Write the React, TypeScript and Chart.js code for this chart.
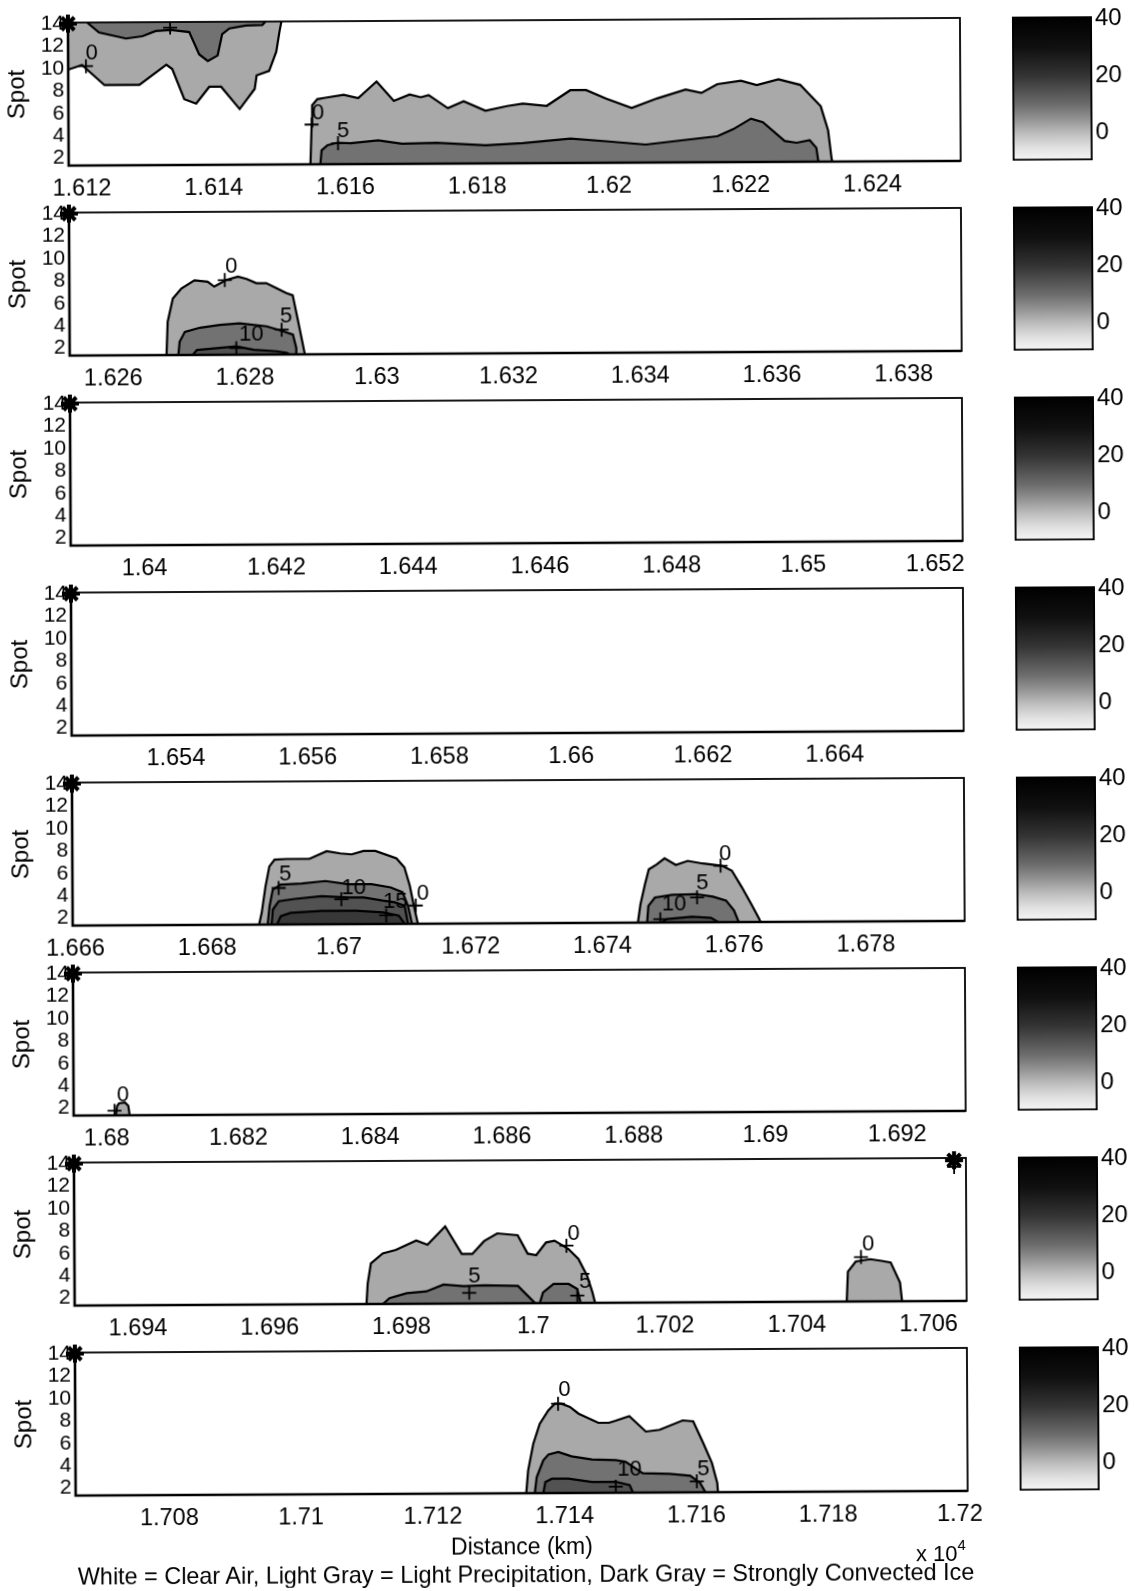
import React, { useEffect, useRef } from 'react';
import { Chart, registerables } from 'chart.js';

Chart.register(...registerables);

// ---------------- data ----------------
const panelStarts = [1.6118, 1.62534, 1.63888, 1.65242, 1.66596, 1.6795, 1.69304, 1.70658];
const panelSpan = 0.01354;

const xTickLabels = [
  [1.612, 1.614, 1.616, 1.618, 1.62, 1.622, 1.624],
  [1.626, 1.628, 1.63, 1.632, 1.634, 1.636, 1.638],
  [1.64, 1.642, 1.644, 1.646, 1.648, 1.65, 1.652],
  [1.654, 1.656, 1.658, 1.66, 1.662, 1.664],
  [1.666, 1.668, 1.67, 1.672, 1.674, 1.676, 1.678],
  [1.68, 1.682, 1.684, 1.686, 1.688, 1.69, 1.692],
  [1.694, 1.696, 1.698, 1.7, 1.702, 1.704, 1.706],
  [1.708, 1.71, 1.712, 1.714, 1.716, 1.718, 1.72],
];
const spotTicks = [2, 4, 6, 8, 10, 12, 14];
const spotRange = [1.33, 14.1];
const colorbarTicks = [0, 20, 40];
const dbzRange = [-9.6, 40.9];

// panel 1 (contours hanging from the top + one from the bottom)
const p1A_l0 = [[1.6118, 9.9], [1.61201, 10.3], [1.61235, 8.5], [1.61288, 8.5], [1.61329, 10.3], [1.61338, 9.9], [1.61356, 7.2], [1.61374, 6.8], [1.61394, 8.3], [1.61412, 8.3], [1.6144, 6.3], [1.61463, 8.1], [1.61466, 9.3], [1.61485, 9.7], [1.61496, 11.4], [1.61501, 13.2], [1.61504, 14.1]];
const p1A_l5 = [[1.61209, 14.1], [1.61227, 13.2], [1.61268, 12.65], [1.61293, 12.85], [1.61313, 13.3], [1.61336, 13.4], [1.61364, 13.2], [1.61379, 11.2], [1.61392, 10.6], [1.61407, 11.1], [1.61414, 13.0], [1.61425, 13.5], [1.6145, 13.75], [1.61475, 13.8], [1.6148, 14.1]];
const p1B_l0 = [[1.61547, 1.33], [1.61549, 4.7], [1.6155, 6.6], [1.61558, 7.15], [1.6157, 7.27], [1.61598, 7.52], [1.6162, 7.21], [1.61648, 8.7], [1.61674, 6.96], [1.61698, 7.52], [1.61715, 7.27], [1.61727, 7.46], [1.61756, 6.28], [1.6178, 6.9], [1.61813, 6.04], [1.61846, 6.44], [1.6187, 6.66], [1.61906, 6.44], [1.61942, 7.83], [1.61966, 7.83], [1.61996, 7.06], [1.62035, 6.22], [1.62074, 7.06], [1.62117, 7.83], [1.62141, 7.52], [1.62165, 8.3], [1.62201, 8.6], [1.62225, 8.2], [1.62258, 8.7], [1.62291, 8.2], [1.62322, 6.28], [1.62333, 4.12], [1.62338, 1.64], [1.62339, 1.33]];
const p1B_l5 = [[1.61562, 1.33], [1.61564, 2.57], [1.61573, 3.03], [1.61588, 3.25], [1.61608, 3.19], [1.6165, 3.44], [1.61686, 3.13], [1.61739, 3.19], [1.61813, 2.94], [1.6187, 3.13], [1.61942, 3.5], [1.61996, 3.25], [1.62056, 2.94], [1.62117, 3.34], [1.62165, 3.65], [1.62189, 4.27], [1.62216, 5.2], [1.62234, 4.89], [1.62267, 3.19], [1.62285, 3.03], [1.62305, 3.25], [1.62315, 2.57], [1.62318, 1.33]];
const p1Labels = [[1.61216, 11.3, '0'], [1.61559, 5.9, '0'], [1.61597, 4.3, '5']];
const p1Crosses = [[1.61207, 10.2], [1.61335, 13.6], [1.61549, 4.88], [1.61589, 3.2]];

// panel 2
const p2_l0 = [[1.62681, 1.33], [1.62683, 4.3], [1.62691, 6.37], [1.62704, 7.26], [1.62724, 8.0], [1.62744, 7.86], [1.62754, 7.42], [1.62772, 8.0], [1.6279, 8.3], [1.62803, 8.09], [1.62818, 7.71], [1.62833, 7.71], [1.62848, 7.26], [1.62863, 6.82], [1.62873, 6.61], [1.62881, 4.3], [1.62891, 1.33]];
const p2_l5 = [[1.62699, 1.33], [1.62701, 2.51], [1.62709, 3.4], [1.62732, 3.76], [1.62762, 3.99], [1.62792, 4.14], [1.62833, 3.85], [1.62858, 3.4], [1.62873, 3.1], [1.62878, 1.92], [1.62878, 1.33]];
const p2_l10 = [[1.62721, 1.33], [1.62727, 1.77], [1.62757, 1.92], [1.62787, 2.07], [1.62813, 1.77], [1.62848, 1.62], [1.62863, 1.48], [1.62868, 1.33]];
const p2Labels = [[1.6278, 9.2, '0'], [1.62863, 4.74, '5'], [1.6281, 3.1, '10']];
const p2Crosses = [[1.6277, 8.0], [1.62856, 3.55], [1.62787, 1.92]];

// panel 5
const p5A_l0 = [[1.66879, 1.33], [1.66883, 2.37], [1.66889, 4.74], [1.66895, 6.52], [1.66903, 7.12], [1.66921, 7.18], [1.66956, 7.18], [1.66982, 7.86], [1.67003, 7.65], [1.6702, 7.56], [1.67038, 7.86], [1.67056, 7.86], [1.67088, 7.18], [1.671, 6.37], [1.67108, 4.74], [1.67114, 2.96], [1.6712, 1.33]];
const p5A_l5 = [[1.66892, 1.33], [1.66895, 2.96], [1.669, 4.45], [1.66912, 4.89], [1.66944, 4.98], [1.6698, 5.19], [1.67015, 4.89], [1.6705, 4.89], [1.67079, 4.59], [1.67097, 4.15], [1.67105, 2.96], [1.67111, 1.33]];
const p5A_l10 = [[1.66898, 1.33], [1.669, 2.67], [1.66909, 3.41], [1.66933, 3.61], [1.66974, 3.85], [1.67015, 3.7], [1.67038, 3.7], [1.67067, 3.41], [1.67085, 3.26], [1.671, 2.96], [1.67105, 1.33]];
const p5A_l15 = [[1.66906, 1.33], [1.66912, 2.07], [1.66927, 2.37], [1.66974, 2.52], [1.67026, 2.52], [1.67067, 2.37], [1.67091, 2.07], [1.671, 1.33]];
const p5B_l0 = [[1.67454, 1.33], [1.67458, 2.96], [1.67465, 4.74], [1.67471, 6.08], [1.67483, 6.52], [1.67495, 7.06], [1.67512, 6.46], [1.6753, 6.82], [1.67553, 6.58], [1.67582, 6.37], [1.67597, 5.93], [1.67612, 4.45], [1.67626, 2.96], [1.67638, 1.63], [1.6764, 1.33]];
const p5B_l5 = [[1.67468, 1.33], [1.6747, 2.81], [1.6748, 3.56], [1.67506, 3.8], [1.67542, 3.85], [1.67568, 3.62], [1.67588, 3.26], [1.676, 2.37], [1.67606, 1.48], [1.67607, 1.33]];
const p5B_l10 = [[1.6749, 1.33], [1.67498, 1.63], [1.67536, 1.83], [1.67565, 1.72], [1.67576, 1.33]];
const p5Labels = [[1.66919, 5.78, '5'], [1.67023, 4.59, '10'], [1.67086, 3.26, '15'], [1.67128, 4.0, '0'], [1.67587, 7.41, '0'], [1.67552, 4.8, '5'], [1.67509, 2.96, '10']];
const p5Crosses = [[1.66909, 4.59], [1.67004, 3.56], [1.67072, 2.1], [1.67117, 2.96], [1.6758, 6.37], [1.67544, 3.56], [1.67488, 1.63]];

// panel 6
const p6_l0 = [[1.68014, 1.33], [1.68016, 2.17], [1.68019, 2.4], [1.68028, 2.48], [1.68033, 2.17], [1.68035, 1.33]];
const p6Labels = [[1.68025, 3.08, '0']];
const p6Crosses = [[1.68012, 1.74]];

// panel 7
const p7A_l0 = [[1.69747, 1.33], [1.69749, 3.18], [1.69754, 4.96], [1.69772, 5.85], [1.69792, 6.15], [1.69823, 6.98], [1.6984, 6.6], [1.69867, 8.23], [1.69892, 5.76], [1.69908, 5.76], [1.69926, 6.9], [1.69946, 7.58], [1.69977, 7.4], [1.69992, 5.76], [1.70005, 5.62], [1.7002, 6.75], [1.70033, 6.9], [1.70054, 6.15], [1.70069, 5.26], [1.70082, 3.77], [1.7009, 2.28], [1.70094, 1.33]];
const p7A_l5a = [[1.69772, 1.33], [1.69782, 1.84], [1.69808, 2.28], [1.69838, 2.43], [1.69864, 3.03], [1.69895, 2.88], [1.69926, 2.94], [1.69977, 2.88], [1.69987, 2.28], [1.70003, 1.33]];
const p7A_l5b = [[1.7001, 1.33], [1.70015, 2.28], [1.70031, 3.03], [1.70054, 3.03], [1.70067, 2.58], [1.70072, 1.33]];
const p7B_l0 = [[1.70476, 1.33], [1.70478, 4.0], [1.7049, 4.9], [1.70512, 5.1], [1.70529, 4.95], [1.70543, 4.8], [1.70557, 3.0], [1.7056, 1.33]];
const p7Labels = [[1.69911, 3.77, '5'], [1.70062, 7.49, '0'], [1.70079, 3.18, '5'], [1.70509, 6.4, '0']];
const p7Crosses = [[1.69903, 2.28], [1.70051, 6.45], [1.70067, 1.98], [1.70498, 5.3], [1.7064, 13.3]];
const p7Stars = [[1.7064, 13.9]];

// panel 8
const p8_l0 = [[1.71342, 1.33], [1.71345, 3.35], [1.71353, 5.73], [1.71363, 7.52], [1.71376, 8.71], [1.71386, 9.31], [1.71396, 9.31], [1.71409, 9.01], [1.71422, 8.41], [1.71452, 7.58], [1.71468, 7.58], [1.71478, 7.76], [1.71499, 8.17], [1.71524, 6.78], [1.71545, 6.93], [1.7158, 7.76], [1.71596, 7.67], [1.71611, 5.73], [1.71624, 3.95], [1.71632, 2.16], [1.71633, 1.33]];
const p8_l5 = [[1.71355, 1.33], [1.71358, 2.76], [1.71368, 4.25], [1.71376, 4.78], [1.71391, 4.99], [1.71411, 4.6], [1.71442, 4.31], [1.71478, 4.25], [1.71493, 4.1], [1.71519, 3.06], [1.7156, 3.0], [1.71591, 2.82], [1.71606, 2.16], [1.71614, 1.33]];
const p8_l10 = [[1.71368, 1.33], [1.71371, 2.31], [1.71381, 2.61], [1.71406, 2.61], [1.71442, 2.31], [1.71478, 2.31], [1.71499, 2.01], [1.71504, 1.33]];
const p8Labels = [[1.71401, 10.5, '0'], [1.71499, 3.35, '10'], [1.71611, 3.35, '5']];
const p8Crosses = [[1.71391, 9.31], [1.71478, 1.87], [1.71601, 2.31]];

// ---------------- tables built from the data ----------------
type Region = { pts: number[][]; level: number; toTop?: boolean };
const panelRegions: Region[][] = [
  [{ pts: p1A_l0, level: 0, toTop: true }, { pts: p1A_l5, level: 5, toTop: true }, { pts: p1B_l0, level: 0 }, { pts: p1B_l5, level: 5 }],
  [{ pts: p2_l0, level: 0 }, { pts: p2_l5, level: 5 }, { pts: p2_l10, level: 10 }],
  [],
  [],
  [{ pts: p5A_l0, level: 0 }, { pts: p5A_l5, level: 5 }, { pts: p5A_l10, level: 10 }, { pts: p5A_l15, level: 15 },
   { pts: p5B_l0, level: 0 }, { pts: p5B_l5, level: 5 }, { pts: p5B_l10, level: 10 }],
  [{ pts: p6_l0, level: 0 }],
  [{ pts: p7A_l0, level: 0 }, { pts: p7A_l5a, level: 5 }, { pts: p7A_l5b, level: 5 }, { pts: p7B_l0, level: 0 }],
  [{ pts: p8_l0, level: 0 }, { pts: p8_l5, level: 5 }, { pts: p8_l10, level: 10 }],
];
const panelLabels: any[][] = [p1Labels, p2Labels, [], [], p5Labels, p6Labels, p7Labels, p8Labels];
const panelCrosses: number[][][] = [p1Crosses, p2Crosses, [], [], p5Crosses, p6Crosses, p7Crosses, p8Crosses];
const panelStars: number[][][] = [[], [], [], [], [], [], p7Stars, []];

// ---------------- styles / layout ----------------
const FONT = "'Liberation Sans', Arial, Helvetica, sans-serif";
const PANEL_STEP = 190;
const CANVAS_W = 1000;
const CANVAS_H = 215;
const PLOT_LEFT = 72;
const PLOT_RIGHT = 964;
const PLOT_TOP = 20;
const PLOT_BOTTOM = 163;
const LEVEL_FILL: Record<number, string> = { 0: '#a9a9a9', 5: '#727272', 10: '#525252', 15: '#383838' };
const CB_STOPS = [[-9.6, 246], [-5, 224], [0, 188], [5, 146], [10, 108], [20, 52], [30, 16], [40.9, 0]];

const fmtTick = (v: number) => String(Number(v.toFixed(3)));
const toXY = (pts: number[][]) => pts.map(([x, y]) => ({ x, y }));

const boxPlugin = {
  id: 'axesBox',
  afterDatasetsDraw(chart: any) {
    const { ctx, chartArea: a } = chart;
    ctx.save();
    ctx.strokeStyle = '#000';
    ctx.lineWidth = 1.8;
    ctx.strokeRect(a.left, a.top, a.right - a.left, a.bottom - a.top);
    ctx.lineWidth = 2.6;
    ctx.beginPath();
    ctx.moveTo(a.left, a.top);
    ctx.lineTo(a.left, a.bottom);
    ctx.lineTo(a.right, a.bottom);
    ctx.stroke();
    ctx.restore();
  },
};

const labelPlugin = {
  id: 'contourLabels',
  afterDatasetsDraw(chart: any, _args: any, opts: any) {
    const items = (opts && opts.items) || [];
    const { ctx, scales } = chart;
    ctx.save();
    ctx.fillStyle = '#000';
    ctx.font = `22px ${FONT}`;
    ctx.textAlign = 'center';
    ctx.textBaseline = 'middle';
    for (const [x, y, t] of items) {
      ctx.fillText(t, scales.x.getPixelForValue(x), scales.y.getPixelForValue(y));
    }
    ctx.restore();
  },
};

function buildPanelConfig(i: number): any {
  const datasets: any[] = [];
  panelRegions[i].forEach((r) => {
    datasets.push({
      data: toXY(r.pts),
      showLine: true,
      fill: r.toTop ? 'end' : 'start',
      backgroundColor: LEVEL_FILL[r.level],
      borderColor: '#000',
      borderWidth: 2.2,
      pointRadius: 0,
      tension: 0,
      order: 100 - r.level,
    });
  });
  datasets.push({
    data: toXY(panelCrosses[i]),
    showLine: false,
    pointStyle: 'cross',
    pointRadius: 7,
    pointBorderWidth: 1.8,
    pointBorderColor: '#000',
    order: 1,
  });
  datasets.push({
    data: toXY([[panelStarts[i], 14], ...panelStars[i]]),
    showLine: false,
    pointStyle: 'star',
    pointRadius: 9,
    pointBorderWidth: 4,
    pointBorderColor: '#000',
    clip: false,
    order: 0,
  });

  return {
    type: 'line',
    data: { datasets },
    plugins: [boxPlugin, labelPlugin],
    options: {
      responsive: false,
      animation: false,
      events: [],
      layout: { padding: { left: 0, right: CANVAS_W - PLOT_RIGHT, top: PLOT_TOP, bottom: 0 } },
      plugins: {
        legend: { display: false },
        tooltip: { enabled: false },
        contourLabels: { items: panelLabels[i] },
      },
      scales: {
        x: {
          type: 'linear',
          min: panelStarts[i],
          max: panelStarts[i] + panelSpan,
          afterBuildTicks: (s: any) => { s.ticks = xTickLabels[i].map((v) => ({ value: v })); },
          afterFit: (s: any) => { s.height = CANVAS_H - PLOT_BOTTOM; s.paddingLeft = 0; s.paddingRight = 0; },
          ticks: {
            autoSkip: false, maxRotation: 0, minRotation: 0, padding: 9, color: '#000',
            font: { family: FONT, size: 23.5 },
            callback: (v: any) => fmtTick(Number(v)),
          },
          grid: { display: false, drawTicks: false },
          border: { display: false },
        },
        y: {
          type: 'linear',
          min: spotRange[0],
          max: spotRange[1],
          afterBuildTicks: (s: any) => { s.ticks = spotTicks.map((v) => ({ value: v })); },
          afterFit: (s: any) => { s.width = PLOT_LEFT; s.paddingTop = 0; s.paddingBottom = 0; },
          ticks: { autoSkip: false, padding: 4, color: '#000', font: { family: FONT, size: 21 } },
          title: { display: true, text: 'Spot', color: '#000', font: { family: FONT, size: 24 }, padding: { top: 7, bottom: 0 } },
          grid: { display: false, drawTicks: false },
          border: { display: false },
        },
      },
    },
  };
}

function Panel({ index }: { index: number }) {
  const ref = useRef<HTMLCanvasElement>(null);
  useEffect(() => {
    const chart = new Chart(ref.current as HTMLCanvasElement, buildPanelConfig(index));
    return () => chart.destroy();
  }, [index]);
  return (
    <canvas
      ref={ref}
      width={CANVAS_W}
      height={CANVAS_H}
      style={{ position: 'absolute', left: 0, top: index * PANEL_STEP, width: CANVAS_W, height: CANVAS_H, display: 'block' }}
    />
  );
}

const CB_W = 134;
const CB_H = 200;
function Colorbar({ index }: { index: number }) {
  const ref = useRef<HTMLCanvasElement>(null);
  useEffect(() => {
    const chart = new Chart(ref.current as HTMLCanvasElement, {
      type: 'bar',
      data: {
        labels: [''],
        datasets: [{
          data: [dbzRange as any],
          backgroundColor: (ctx: any) => {
            const c = ctx.chart;
            if (!c.chartArea) return '#888';
            const y = c.scales.y;
            const y0 = y.getPixelForValue(dbzRange[0]);
            const y1 = y.getPixelForValue(dbzRange[1]);
            const g = c.ctx.createLinearGradient(0, y0, 0, y1);
            CB_STOPS.forEach(([v, gray]) => {
              const t = (v - dbzRange[0]) / (dbzRange[1] - dbzRange[0]);
              g.addColorStop(Math.min(1, Math.max(0, t)), `rgb(${gray},${gray},${gray})`);
            });
            return g;
          },
          borderColor: '#000',
          borderWidth: 2.2,
          borderSkipped: false,
          barPercentage: 1,
          categoryPercentage: 1,
        }],
      },
      options: {
        responsive: false,
        animation: false,
        events: [],
        layout: { padding: { left: 16, top: PLOT_TOP - 1, bottom: CB_H - PLOT_BOTTOM, right: 0 } },
        plugins: { legend: { display: false }, tooltip: { enabled: false } },
        scales: {
          x: { display: false },
          y: {
            position: 'right',
            min: dbzRange[0],
            max: dbzRange[1],
            afterBuildTicks: (s: any) => { s.ticks = colorbarTicks.map((v) => ({ value: v })); },
            afterFit: (s: any) => { s.width = 38; s.paddingTop = 0; s.paddingBottom = 0; },
            ticks: { padding: 3, color: '#000', font: { family: FONT, size: 24 } },
            grid: { display: false, drawTicks: false },
            border: { display: false },
          },
        },
      } as any,
    });
    return () => chart.destroy();
  }, [index]);
  return (
    <canvas
      ref={ref}
      width={CB_W}
      height={CB_H}
      style={{ position: 'absolute', left: 1000, top: index * PANEL_STEP, width: CB_W, height: CB_H, display: 'block' }}
    />
  );
}

export default function App() {
  const idx = panelStarts.map((_, i) => i);
  const textStyle: React.CSSProperties = {
    position: 'absolute', fontFamily: FONT, fontSize: 23, lineHeight: '26px', color: '#000', whiteSpace: 'nowrap',
  };
  return (
    <div
      style={{
        position: 'absolute', left: 0, top: 0, width: 1134, height: 1591, background: '#fff',
        transform: 'rotate(-0.3deg)', transformOrigin: '567px 795px', overflow: 'visible',
      }}
    >
      {idx.map((i) => <Panel key={'p' + i} index={i} />)}
      {idx.map((i) => <Colorbar key={'c' + i} index={i} />)}
      <div style={{ ...textStyle, left: 518, top: 1546 - 13, transform: 'translateX(-50%)' }}>Distance (km)</div>
      <div style={{ ...textStyle, left: 912, top: 1556 - 13, fontSize: 22 }}>
        x 10<sup style={{ fontSize: 15, verticalAlign: 'top', position: 'relative', top: -9 }}>4</sup>
      </div>
      <div style={{ ...textStyle, fontSize: 23.4, left: 522, top: 1574 - 13, transform: 'translateX(-50%)' }}>
        White = Clear Air, Light Gray = Light Precipitation, Dark Gray = Strongly Convected Ice
      </div>
    </div>
  );
}
